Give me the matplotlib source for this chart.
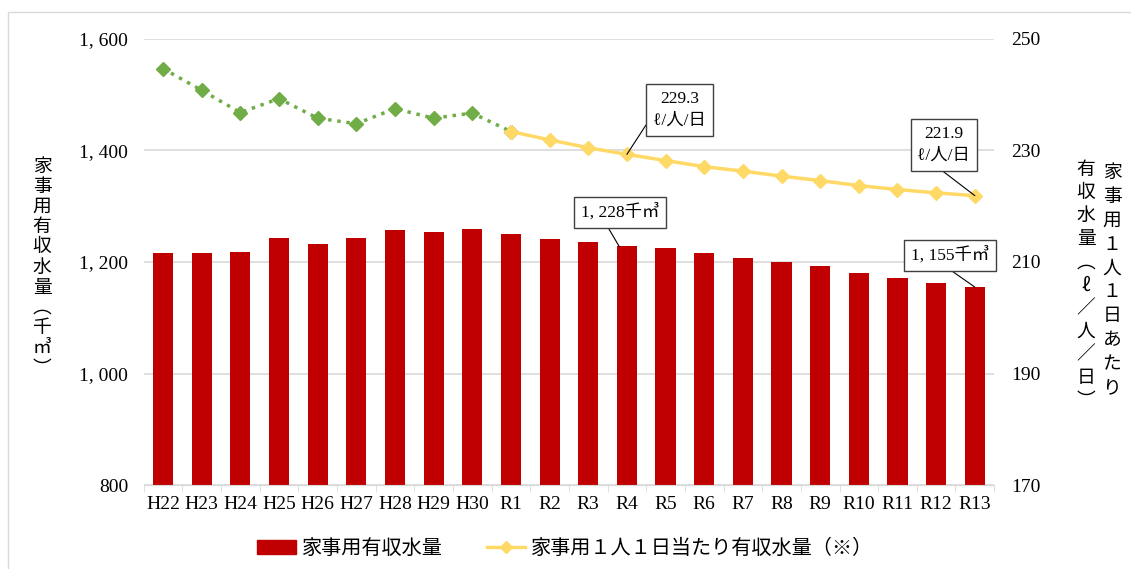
import numpy as np
import matplotlib.pyplot as plt
from matplotlib.patches import Rectangle
from matplotlib.lines import Line2D

plt.rcParams['font.family'] = ['Liberation Serif', 'Noto Sans CJK JP', 'DejaVu Sans']

# Data
years = ['H22', 'H23', 'H24', 'H25', 'H26', 'H27', 'H28', 'H29', 'H30',
         'R1', 'R2', 'R3', 'R4', 'R5', 'R6', 'R7', 'R8', 'R9', 'R10', 'R11', 'R12', 'R13']
volume = [1217, 1216, 1218, 1243, 1232, 1243, 1257, 1253, 1260,
          1251, 1242, 1235, 1228, 1225, 1216, 1208, 1200, 1193, 1181, 1171, 1162, 1155]
per_person_past = [244.7, 240.8, 236.8, 239.3, 235.8, 234.8, 237.5, 235.8, 236.7, 233.4]
per_person_future = [233.4, 231.9, 230.5, 229.3, 228.2, 227.1, 226.3, 225.4, 224.6,
                     223.7, 223.0, 222.4, 221.9]
left_ticks = [800, 1000, 1200, 1400, 1600]
right_ticks = [170, 190, 210, 230, 250]

RED = '#C00000'
GREEN = '#70AD47'
YELLOW = '#FFD966'
GRID = '#D9D9D9'

x = np.arange(len(years))
x_past = x[:len(per_person_past)]
x_future = x[len(per_person_past) - 1:]

fig = plt.figure(figsize=(11.31, 5.69), dpi=100)
ax = fig.add_axes([0.127, 0.1476, 0.752, 0.7839])
ax2 = ax.twinx()

ax.bar(x, volume, width=0.52, color=RED, zorder=2)
ax.set_ylim(800, 1600)
ax.set_yticks(left_ticks)
ax.set_yticklabels([f'{v:,}'.replace(',', ', ') for v in left_ticks])
ax.set_xlim(-0.5, len(years) - 0.5)
ax.set_xticks(x)
ax.set_xticklabels(years)
ax.set_xticks(np.arange(-0.5, len(years), 1), minor=True)
ax.tick_params(axis='x', which='major', length=0, pad=8, labelsize=14)
ax.tick_params(axis='x', which='minor', length=5, color=GRID)
ax.tick_params(axis='y', length=0, pad=11, labelsize=14)
ax.yaxis.grid(True, color=GRID, linewidth=1.2, zorder=0)
ax.set_axisbelow(True)
for s in ['top', 'right', 'left']:
    ax.spines[s].set_visible(False)
ax.spines['bottom'].set_color(GRID)

ax2.plot(x_past, per_person_past, color=GREEN, linestyle=':', linewidth=2.5,
         marker='D', markersize=7, zorder=3)
ax2.plot(x_future, per_person_future, color=YELLOW, linewidth=2.5,
         marker='D', markersize=7, zorder=3)
ax2.set_ylim(170, 250)
ax2.set_yticks(right_ticks)
ax2.tick_params(axis='y', length=0, pad=12, labelsize=14)
for s in ax2.spines.values():
    s.set_visible(False)

box = dict(boxstyle='square,pad=0.4', fc='white', ec='#404040', lw=1)
line = dict(arrowstyle='-', color='black', lw=0.8, shrinkA=0, shrinkB=0)

i4 = years.index('R4')
ax2.annotate(f'{per_person_future[i4 - 9]}\nℓ/人/日', xy=(i4, per_person_future[i4 - 9]),
             xytext=(13.37, 237.3), ha='center', va='center', fontsize=12.5,
             bbox=box, arrowprops=dict(line, relpos=(0, 0.4)), linespacing=1.5)
ax2.annotate(f'{per_person_future[-1]}\nℓ/人/日', xy=(x[-1], per_person_future[-1]),
             xytext=(20.2, 231.0), ha='center', va='center', fontsize=12.5,
             bbox=box, arrowprops=dict(line, relpos=(0.3, 0)), linespacing=1.5)
ax.annotate(f'{volume[i4]:,}千㎥'.replace(',', ', '), xy=(i4 - 0.2, volume[i4]),
            xytext=(11.82, 1289), ha='center', va='center', fontsize=12.5,
            bbox=box, arrowprops=dict(line, relpos=(0.3, 0)), zorder=5)
ax.annotate(f'{volume[-1]:,}千㎥'.replace(',', ', '), xy=(x[-1], volume[-1]),
            xytext=(20.35, 1212), ha='center', va='center', fontsize=12.5,
            bbox=box, arrowprops=dict(line, relpos=(0.4, 0)), zorder=5)

# Vertical axis titles
fig.text(42 / 1131, 1 - 267 / 569, '\n'.join('家事用有収水量︵千㎥︶'), ha='center', va='center',
         fontsize=13.5, linespacing=0.95, family=['Noto Sans CJK JP'])
fig.text(1112 / 1131, 1 - 280 / 569, '\n'.join('家事用１人１日あたり'), ha='center', va='center',
         fontsize=13.5, linespacing=1.18, family=['Noto Sans CJK JP'])
fig.text(1086 / 1131, 1 - 285 / 569, '\n'.join('有収水量︵ℓ／人／日︶'), ha='center', va='center',
         fontsize=13.5, linespacing=1.13, family=['Noto Sans CJK JP', 'DejaVu Sans'])

handles = [Rectangle((0, 0), 1, 1, color=RED),
           Line2D([], [], color=YELLOW, linewidth=2.5, marker='D', markersize=6)]
fig.legend(handles, ['家事用有収水量', '家事用１人１日当たり有収水量（※）'],
           loc='center', bbox_to_anchor=(0.5, 1 - 549 / 569), ncol=2, frameon=False,
           fontsize=14.5, handlelength=1.9, handletextpad=0.3, columnspacing=2.2)

fig.add_artist(Rectangle((8 / 1131, -0.01), 1.2, 1 - 12 / 569 + 0.01, transform=fig.transFigure,
                         fill=False, ec=GRID, lw=1))

fig.savefig('out.png', dpi=100)
